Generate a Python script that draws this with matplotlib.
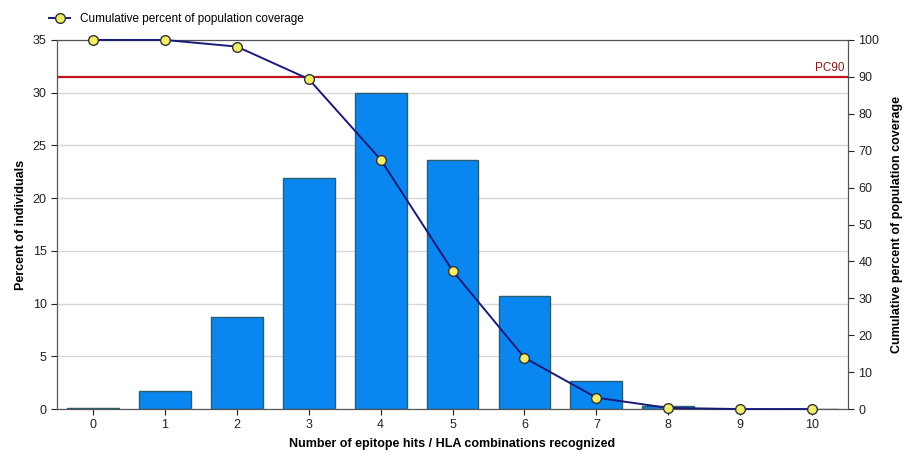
import matplotlib.pyplot as plt

plt.rcParams['font.family'] = ['Liberation Sans', 'DejaVu Sans']

# Data
hits = [0, 1, 2, 3, 4, 5, 6, 7, 8, 9, 10]
percent_individuals = [0.1, 1.7, 8.7, 21.9, 30.0, 23.6, 10.7, 2.7, 0.3, 0.0, 0.0]
cumulative_coverage = [100, 100, 98.2, 89.4, 67.6, 37.5, 13.9, 3.1, 0.3, 0.0, 0.0]
pc90 = 90

fig = plt.figure(figsize=(9.06, 4.54), dpi=100)
ax = fig.add_axes([0.063, 0.099, 0.873, 0.813])

ax.yaxis.grid(True, color='#d8d8d8', linewidth=1)
ax.set_axisbelow(True)
ax.bar(hits, percent_individuals, width=0.72, color='#0a86f0',
       edgecolor='#2b5f6e', linewidth=1.0, zorder=2)
ax.set_xlim(-0.5, 10.5)
ax.set_ylim(0, 35)
ax.set_xticks(hits)
ax.set_yticks(range(0, 36, 5))
ax.set_xlabel('Number of epitope hits / HLA combinations recognized',
              fontsize=9, fontweight='bold', labelpad=5)
ax.set_ylabel('Percent of individuals', fontsize=9, fontweight='bold')

ax2 = ax.twinx()
ax2.set_ylim(0, 100)
ax2.set_yticks(range(0, 101, 10))
ax2.axhline(pc90, color='#c0161a', linewidth=1.6, zorder=3)
ax2.text(10.45, pc90 + 0.8, 'PC90', color='#8b1a1a', fontsize=8.5,
         ha='right', va='bottom')
line, = ax2.plot(hits, cumulative_coverage, color='#1a1a7a', linewidth=1.4,
                 marker='o', markersize=7, markerfacecolor='#f2ee6a',
                 markeredgecolor='#333333', markeredgewidth=1.0, zorder=4,
                 clip_on=False)
ax2.set_ylabel('Cumulative percent of population coverage',
               fontsize=9, fontweight='bold', labelpad=8)

for a in (ax, ax2):
    a.tick_params(labelsize=9, colors='#222222', length=4)
    for s in a.spines.values():
        s.set_color('#555555')

fig.legend([line], ['Cumulative percent of population coverage'],
           loc='upper left', bbox_to_anchor=(0.045, 0.99), frameon=False,
           fontsize=8.5, handlelength=1.8, borderaxespad=0.3)

fig.savefig('out.png', dpi=100)
